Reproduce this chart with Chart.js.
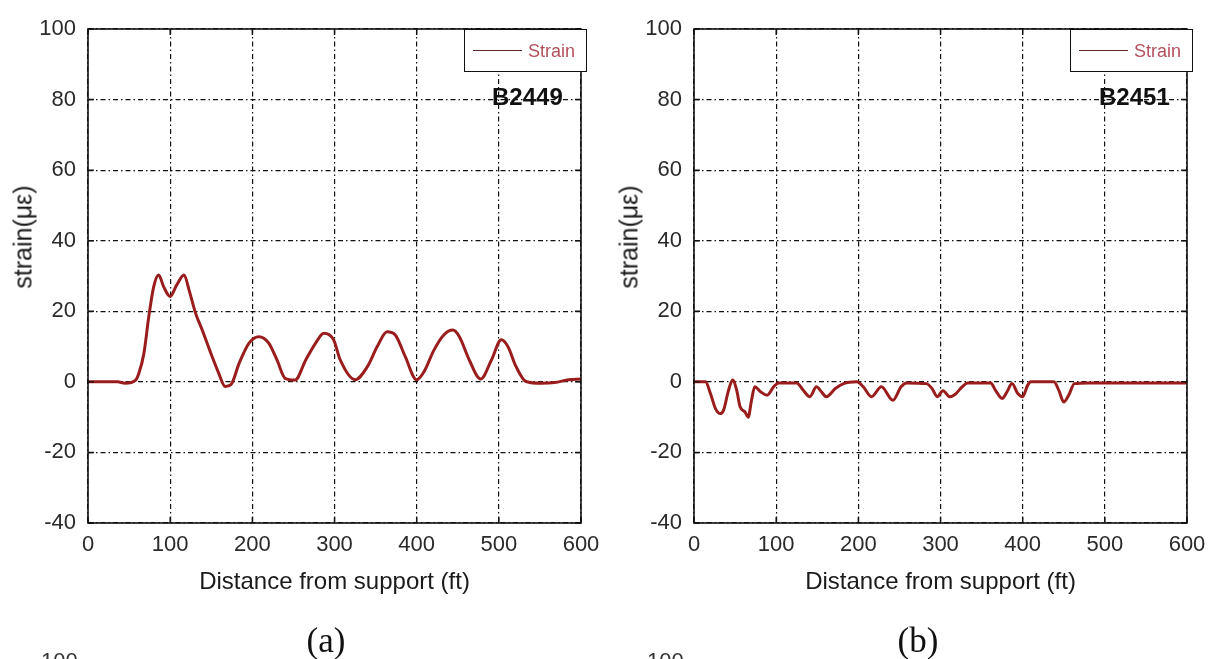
<!DOCTYPE html>
<html>
<head>
<meta charset="utf-8">
<script src="https://cdn.jsdelivr.net/npm/chart.js@4.4.1/dist/chart.umd.min.js"></script>
<style>
  html, body { margin: 0; padding: 0; background: #fff; }
  body { width: 1211px; height: 659px; position: relative; overflow: hidden; font-family: 'Liberation Sans', Arial, sans-serif; color: #1a1a1a; }
  canvas { position: absolute; top: 0; }
  .ytitle { position: absolute; font-size: 25px; white-space: nowrap; transform: translate(-50%, -50%) rotate(-90deg); line-height: 25px; }
  .tag { position: absolute; font-size: 24px; font-weight: bold; line-height: 24px; white-space: nowrap; color: #111; }
  .legend { position: absolute; box-sizing: border-box; border: 1.5px solid #111; background: #fff; }
  .legend .ln { position: absolute; height: 0; border-top: 1.5px solid #5a2626; }
  .legend .lt { position: absolute; font-size: 18px; line-height: 18px; color: #b4505c; white-space: nowrap; }
  .sub { position: absolute; font-family: 'Liberation Serif', 'Times New Roman', serif; font-size: 35px; line-height: 35px; transform: translate(-50%, -50%); color: #111; }
  .cut { position: absolute; font-size: 22px; line-height: 22px; color: #333; }
</style>
</head>
<body>
<canvas id="chartA" width="605" height="659" style="left:0px"></canvas>
<canvas id="chartB" width="606" height="659" style="left:605px"></canvas>

<div class="ytitle" style="left:23px; top:237px">strain(με)</div>
<div class="ytitle" style="left:629px; top:237px">strain(με)</div>
<div class="tag" style="left:492px; top:85px">B2449</div>
<div class="tag" style="left:1099px; top:85px">B2451</div>
<div class="sub" style="left:326px; top:640px">(a)</div>
<div class="sub" style="left:918px; top:640px">(b)</div>
<div class="cut" style="left:41px; top:650px">100</div>
<div class="cut" style="left:647px; top:650px">100</div>
<div id="legA"></div>
<div id="legB"></div>

<script>
// ---- data ----
const distA   = [0, 36, 45, 58, 62, 68, 74, 80, 86, 92, 100, 108, 117, 123, 131, 139, 151, 159, 167, 174, 184, 196, 208, 220, 230, 240, 252, 265, 277, 287, 299, 307, 325, 340, 352, 364, 374, 386, 400, 409, 421, 433, 444, 452, 464, 478, 491, 503, 511, 521, 533, 552, 568, 585, 600];
const strainA = [0, 0, -0.4, 0.5, 2.5, 8, 18.5, 27, 30.3, 27, 24.2, 27.5, 30.3, 26, 19.4, 14.7, 7.2, 2.5, -1.3, -0.8, 5.3, 11, 12.8, 11, 6.2, 1, 0.5, 6.2, 11, 13.8, 11.9, 6.2, 0.6, 4.3, 10, 14.2, 13.3, 7.2, 0.6, 2.9, 9, 13.3, 14.7, 12.8, 6.2, 0.8, 6.2, 11.9, 10, 4.3, 0.1, -0.4, -0.2, 0.6, 0.8];

const distB   = [0, 14, 20, 26, 32, 36, 42, 47, 52, 56, 62, 66, 70, 74, 81, 89, 97, 103, 125, 133, 141, 149, 155, 161, 172, 182, 198, 206, 216, 228, 242, 252, 259, 283, 290, 296, 303, 311, 318, 326, 333, 361, 367, 375, 381, 387, 394, 400, 406, 410, 438, 444, 450, 456, 463, 480, 600];
const strainB = [0, 0, -3.3, -7.5, -9, -8, -2.4, 0.5, -2.4, -7, -8.5, -10, -5.2, -1.4, -2.8, -3.8, -1.4, -0.3, -0.3, -2.4, -4.2, -1.4, -2.8, -4.2, -1.9, -0.5, 0, -1.4, -4.2, -1.4, -5.2, -1.4, -0.3, -0.5, -2, -4.2, -2.5, -4.2, -3.5, -1.5, -0.3, -0.3, -2.4, -4.7, -2.8, -0.5, -3.3, -4.2, -1, 0, 0, -2.4, -5.7, -3.8, -0.5, -0.3, -0.3];

const xTicks = [0, 100, 200, 300, 400, 500, 600];
const yTicks = [-40, -20, 0, 20, 40, 60, 80, 100];
const seriesLabel = 'Strain';
const xTitle = 'Distance from support (ft)';

// ---- styling ----
const FONT = "'Liberation Sans', Arial, sans-serif";
const LINE_COLOR = '#9a1d1d';

const framePlugin = {
  id: 'frame',
  afterDraw(chart) {
    const {ctx, chartArea: a, scales} = chart;
    ctx.save();
    ctx.strokeStyle = '#111';
    ctx.lineWidth = 1.6;
    ctx.strokeRect(a.left, a.top, a.right - a.left, a.bottom - a.top);
    ctx.lineWidth = 1.4;
    const L = 6;
    ctx.beginPath();
    xTicks.forEach(v => {
      const px = scales.x.getPixelForValue(v);
      ctx.moveTo(px, a.bottom); ctx.lineTo(px, a.bottom - L);
      ctx.moveTo(px, a.top); ctx.lineTo(px, a.top + L);
    });
    yTicks.forEach(v => {
      const py = scales.y.getPixelForValue(v);
      ctx.moveTo(a.left, py); ctx.lineTo(a.left + L, py);
      ctx.moveTo(a.right, py); ctx.lineTo(a.right - L, py);
    });
    ctx.stroke();
    ctx.restore();
  }
};

function makeChart(id, xs, ys, yWidth, padRight) {
  return new Chart(document.getElementById(id), {
    type: 'line',
    data: {
      datasets: [{
        label: seriesLabel,
        data: xs.map((x, i) => ({x: x, y: ys[i]})),
        borderColor: LINE_COLOR,
        backgroundColor: LINE_COLOR,
        borderWidth: 3,
        pointRadius: 0,
        cubicInterpolationMode: 'monotone',
        fill: false
      }]
    },
    options: {
      responsive: false,
      maintainAspectRatio: false,
      animation: false,
      layout: { padding: { top: 29, right: padRight, left: 0, bottom: 0 } },
      plugins: { legend: { display: false }, tooltip: { enabled: false } },
      scales: {
        x: {
          type: 'linear', min: 0, max: 600,
          afterBuildTicks: s => { s.ticks = xTicks.map(v => ({value: v})); },
          afterFit: s => { s.height = 136; s.paddingLeft = 0; s.paddingRight = 0; },
          ticks: { padding: 9, color: '#2a2a2a', font: { family: FONT, size: 22 }, maxRotation: 0, autoSkip: false },
          grid: { color: '#111', lineWidth: 1.2, drawTicks: false },
          border: { display: false, dash: [5, 3, 1.5, 3] },
          title: { display: true, text: xTitle, color: '#1a1a1a', font: { family: FONT, size: 24 }, padding: { top: 0, bottom: 62 } }
        },
        y: {
          type: 'linear', min: -40, max: 100,
          afterBuildTicks: s => { s.ticks = yTicks.map(v => ({value: v})); },
          afterFit: s => { s.width = yWidth; s.paddingTop = 0; s.paddingBottom = 0; },
          ticks: { padding: 12, color: '#2a2a2a', font: { family: FONT, size: 22 } },
          grid: { color: '#111', lineWidth: 1.2, drawTicks: false },
          border: { display: false, dash: [5, 3, 1.5, 3] }
        }
      }
    },
    plugins: [framePlugin]
  });
}

function makeLegend(el, chart) {
  const a = chart.chartArea;
  const offX = parseFloat(chart.canvas.style.left) || 0;
  const ds = chart.data.datasets[0];
  el.className = 'legend';
  el.style.left = (offX + a.right - 117) + 'px';
  el.style.top = a.top + 'px';
  el.style.width = '123px';
  el.style.height = '43px';
  el.innerHTML = '<div class="ln" style="left:8px; top:20px; width:49px; border-top-color:#5a2626"></div>' +
                 '<div class="lt" style="left:63px; top:12px">' + ds.label + '</div>';
}

const chA = makeChart('chartA', distA, strainA, 88, 24);
const chB = makeChart('chartB', distB, strainB, 89, 24);
makeLegend(document.getElementById('legA'), chA);
makeLegend(document.getElementById('legB'), chB);
</script>
</body>
</html>
